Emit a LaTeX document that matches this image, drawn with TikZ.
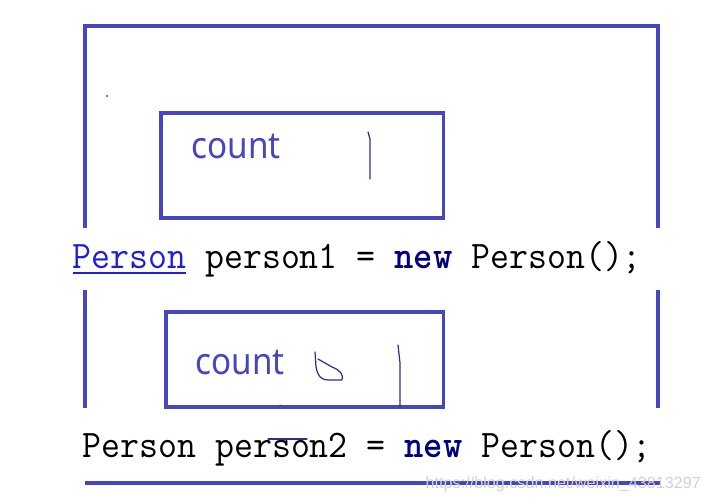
\documentclass[tikz,border=0pt]{standalone}
\usepackage{fontspec}
\newfontfamily\countfont{Noto Sans}
\newfontfamily\markfont{Liberation Sans}
\definecolor{framecol}{RGB}{70,70,192}
\definecolor{inkcol}{RGB}{45,45,140}
\definecolor{typecol}{RGB}{30,30,220}
\definecolor{keycol}{RGB}{0,0,128}
\tikzset{
  frameline/.style={framecol, line width=0.9pt},
  objbox/.style={draw=framecol, line width=0.9pt, inner sep=0pt},
  fieldtext/.style={text=framecol, font=\countfont\fontsize{10.5}{12}\selectfont, inner sep=0pt, anchor=base west},
  codetext/.style={font=\ttfamily\fontsize{11.1}{13}\selectfont, inner sep=0pt, anchor=base west},
  inkline/.style={inkcol, line width=0.35pt, line cap=round, line join=round}
}
\begin{document}
\begin{tikzpicture}[x=0.01cm, y=0.01cm]
    \useasboundingbox (0,0) rectangle (710,503);

    % Draw outer frame, broken where the code lines are
    \draw[frameline] (85,275) -- (85,477) -- (658,477) -- (658,275);
    \draw[frameline] (85,213) -- (85,95);
    \draw[frameline] (658,213) -- (658,95);
    \draw[frameline] (85,20) -- (660,20);

    % First object
    \node[objbox, minimum width=2.82cm, minimum height=1.05cm] (box1) at (302,337.5) {};
    \node[fieldtext] (count1) at (191,344) {\scalebox{0.9}[1]{count}};
    \draw[inkline] (368,371) -- (370,364) -- (370,324);
    \fill (107,407) circle (0.8);

    % First code line
    \node[codetext] (code1) at (72,235) {\scalebox{0.942}[1]{\textcolor{typecol}{\underline{Person}} person1 = \textcolor{keycol}{\bfseries new} Person();}};

    % Second object
    \node[objbox, minimum width=2.77cm, minimum height=0.95cm] (box2) at (304.5,143.5) {};
    \node[fieldtext] (count2) at (195,129) {\scalebox{0.9}[1]{count}};
    \draw[inkline] (315,151) -- (316,136) .. controls (318,126) and (322,123) .. (328,123)
        -- (342,123) .. controls (344,128) and (340,133) .. (332,136) -- (318,144);
    \draw[inkline] (398,158) -- (400,140) -- (400,96);
    \fill (280,98) circle (0.5);

    % Second code line
    \node[codetext] (code2) at (82,46) {\scalebox{0.942}[1]{Person person2 = \textcolor{keycol}{\bfseries new} Person();}};
    \draw[inkline] (268,64) -- (307,64);

    % Watermark
    \node[font=\markfont\fontsize{4.6}{5}\selectfont, text=black!18, inner sep=0pt, anchor=base west] (mark) at (425,15) {https://blog.csdn.net/weixin\_43813297};
\end{tikzpicture}
\end{document}
